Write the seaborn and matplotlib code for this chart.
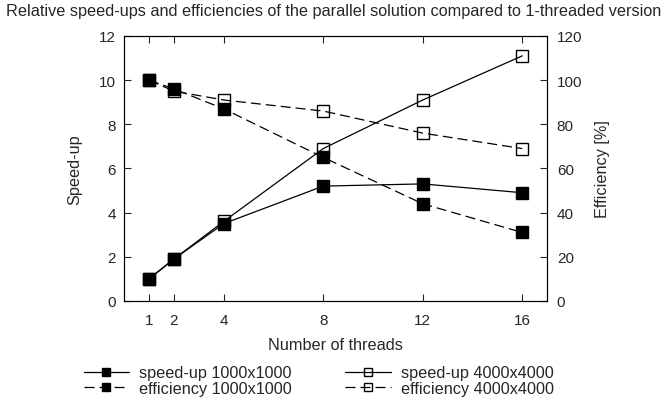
import matplotlib
matplotlib.use("Agg")
import matplotlib.pyplot as plt
import seaborn as sns

threads = [1, 2, 4, 8, 12, 16]
speedup_1000 = [1.0, 1.9, 3.5, 5.2, 5.3, 4.9]
speedup_4000 = [1.0, 1.9, 3.6, 6.9, 9.1, 11.1]
eff_1000 = [100, 96, 87, 65, 44, 31]
eff_4000 = [100, 95, 91, 86, 76, 69]

sns.set_style("ticks")
plt.rcParams['font.family'] = ['Liberation Sans', 'DejaVu Sans']

fig = plt.figure(figsize=(6.68, 4.02), dpi=100)
ax = fig.add_axes([0.186, 0.249, 0.633, 0.659])
ax2 = ax.twinx()
ax2.set_zorder(ax.get_zorder() + 1)

dash = (0, (8, 4))
ms = 8.2
common = dict(color='black', linewidth=0.9, markersize=ms, marker='s', markeredgecolor='black', markeredgewidth=1.0)

sns.lineplot(x=threads, y=speedup_4000, ax=ax, label='speed-up 4000x4000', markerfacecolor='none', linestyle='-', legend=False, **common)
sns.lineplot(x=threads, y=speedup_1000, ax=ax, label='speed-up 1000x1000', markerfacecolor='black', linestyle='-', legend=False, **common)
sns.lineplot(x=threads, y=eff_4000, ax=ax2, label='efficiency 4000x4000', markerfacecolor='none', linestyle=dash, legend=False, **common)
sns.lineplot(x=threads, y=eff_1000, ax=ax2, label='efficiency 1000x1000', markerfacecolor='black', linestyle=dash, legend=False, **common)

ax.set_xlim(0, 17)
ax.set_ylim(0, 12)
ax2.set_ylim(0, 120)
ax.set_xticks(threads)
ax.set_yticks(range(0, 13, 2))
ax2.set_yticks(range(0, 121, 20))

ax.tick_params(axis='y', direction='in', length=5, labelsize=11, right=False, pad=6, width=0.8)
ax.tick_params(axis='x', direction='in', length=5, labelsize=11, top=True, pad=9, width=0.8)
ax2.tick_params(axis='y', direction='in', length=5, labelsize=11, pad=7, width=0.8)
for a in (ax, ax2):
    for s in a.spines.values():
        s.set_visible(True)
        s.set_linewidth(0.8)
        s.set_color('black')

lab = 11.7
ax.set_xlabel('Number of threads', fontsize=lab, labelpad=7)
ax.set_ylabel('Speed-up', fontsize=lab, labelpad=12)
ax2.set_ylabel('Efficiency [%]', fontsize=lab, labelpad=9)

fig.suptitle('Relative speed-ups and efficiencies of the parallel solution compared to 1-threaded version',
             fontsize=11.7, x=0.5, y=0.99)

h1, l1 = ax.get_legend_handles_labels()
h2, l2 = ax2.get_legend_handles_labels()
hd = dict(zip(l1 + l2, h1 + h2))
order = ['speed-up 1000x1000', 'efficiency 1000x1000', 'speed-up 4000x4000', 'efficiency 4000x4000']
fig.legend([hd[k] for k in order], order, loc='center', bbox_to_anchor=(0.477, 0.051), ncol=2,
           frameon=False, fontsize=lab, handlelength=2.8, columnspacing=3.3, labelspacing=0.02,
           markerscale=0.7, handletextpad=0.6, borderpad=0)

fig.savefig('out.png', dpi=100)
